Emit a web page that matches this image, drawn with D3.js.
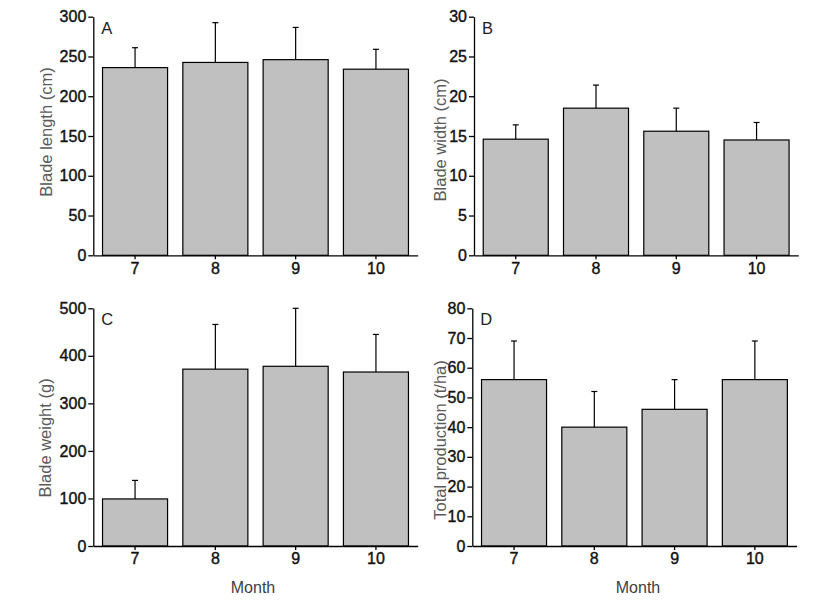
<!DOCTYPE html>
<html>
<head>
<meta charset="utf-8">
<script src="https://cdn.jsdelivr.net/npm/d3@7"></script>
<style>
  html, body { margin: 0; padding: 0; background: #fff; }
  svg { display: block; }
  .tick text { font-family: "Liberation Sans", Arial, sans-serif; font-size: 16px; fill: #111; stroke: #111; stroke-width: 0.4px; }
  .ytitle { font-family: "Liberation Sans", Arial, sans-serif; font-size: 16.5px; fill: #5a5a5a; }
  .xtitle { font-family: "Liberation Sans", Arial, sans-serif; font-size: 16px; fill: #3a3f44; }
  .plabel { font-family: "Liberation Sans", Arial, sans-serif; font-size: 16.5px; fill: #222; }
</style>
</head>
<body>
<svg id="chart" width="838" height="607"></svg>
<script>
// ---- Data ----
const months = ["7", "8", "9", "10"];

const lengthMean = [236, 242.5, 246, 234];
const lengthSD   = [25, 50, 40.5, 25];
const lengthTicks = [0, 50, 100, 150, 200, 250, 300];

const widthMean = [14.6, 18.5, 15.6, 14.5];
const widthSD   = [1.8, 2.9, 2.9, 2.2];
const widthTicks = [0, 5, 10, 15, 20, 25, 30];

const weightMean = [99, 372, 378, 366];
const weightSD   = [39, 94, 122, 79];
const weightTicks = [0, 100, 200, 300, 400, 500];

const prodMean = [56, 40, 46, 56];
const prodSD   = [13, 12, 10, 13];
const prodTicks = [0, 10, 20, 30, 40, 50, 60, 70, 80];

const panelLetters = ["A", "B", "C", "D"];
const yTitles = ["Blade length (cm)", "Blade width (cm)", "Blade weight (g)", "Total production (t/ha)"];
const xTitle = "Month";

// ---- Layout ----
const panels = [
  { letter: panelLetters[0], title: yTitles[0], mean: lengthMean, sd: lengthSD, ticks: lengthTicks,
    x0: 93.3, x1: 417.7, y0: 255.3, y1: 16.7, titleX: 46.5, titleY: 132, showX: false, xTitleX: 0 },
  { letter: panelLetters[1], title: yTitles[1], mean: widthMean, sd: widthSD, ticks: widthTicks,
    x0: 474, x1: 798.3, y0: 255.3, y1: 16.7, titleX: 440.5, titleY: 140, showX: false, xTitleX: 0 },
  { letter: panelLetters[2], title: yTitles[2], mean: weightMean, sd: weightSD, ticks: weightTicks,
    x0: 93.3, x1: 417.7, y0: 546, y1: 308.3, titleX: 45, titleY: 438, showX: true, xTitleX: 253 },
  { letter: panelLetters[3], title: yTitles[3], mean: prodMean, sd: prodSD, ticks: prodTicks,
    x0: 472.3, x1: 796.6, y0: 546, y1: 308.3, titleX: 440.5, titleY: 440, showX: true, xTitleX: 638 }
];

const svg = d3.select("#chart");

panels.forEach(p => {
  const g = svg.append("g");
  const x = d3.scaleBand().domain(months).range([p.x0, p.x1]).paddingInner(0.19).paddingOuter(0.115);
  const yMax = p.ticks[p.ticks.length - 1];
  const y = d3.scaleLinear().domain([0, yMax]).range([p.y0, p.y1]);

  const data = months.map((m, i) => ({ m, v: p.mean[i], sd: p.sd[i] }));

  // bars
  g.selectAll("rect.bar").data(data).join("rect")
    .attr("class", "bar")
    .attr("x", d => x(d.m))
    .attr("y", d => y(d.v))
    .attr("width", x.bandwidth())
    .attr("height", d => y(0) - y(d.v))
    .attr("fill", "#c0c0c0")
    .attr("stroke", "#000")
    .attr("stroke-width", 1.2);

  // error bars (upper)
  g.selectAll("line.err").data(data).join("line")
    .attr("class", "err")
    .attr("x1", d => x(d.m) + x.bandwidth() / 2)
    .attr("x2", d => x(d.m) + x.bandwidth() / 2)
    .attr("y1", d => y(d.v))
    .attr("y2", d => y(d.v + d.sd))
    .attr("stroke", "#000").attr("stroke-width", 1.2);
  g.selectAll("line.cap").data(data).join("line")
    .attr("class", "cap")
    .attr("x1", d => x(d.m) + x.bandwidth() / 2 - 3)
    .attr("x2", d => x(d.m) + x.bandwidth() / 2 + 3)
    .attr("y1", d => y(d.v + d.sd))
    .attr("y2", d => y(d.v + d.sd))
    .attr("stroke", "#000").attr("stroke-width", 1.2);

  // y axis
  const ya = g.append("g").attr("transform", `translate(${p.x0},0)`)
    .call(d3.axisLeft(y).tickValues(p.ticks).tickSize(5).tickPadding(2).tickSizeOuter(0));
  ya.select(".domain").attr("stroke", "#000").attr("stroke-width", 1.3);
  ya.selectAll(".tick line").attr("stroke", "#000").attr("stroke-width", 1.3);

  // x axis
  const xa = g.append("g").attr("transform", `translate(0,${p.y0})`)
    .call(d3.axisBottom(x).tickSize(4).tickPadding(3).tickSizeOuter(0));
  xa.select(".domain").attr("stroke", "#000").attr("stroke-width", 1.3);
  xa.selectAll(".tick line").attr("stroke", "#000").attr("stroke-width", 1.3);

  // panel letter
  g.append("text").attr("class", "plabel")
    .attr("x", p.x0 + 8).attr("y", p.y1 + 17)
    .text(p.letter);

  // y title
  g.append("text").attr("class", "ytitle")
    .attr("text-anchor", "middle")
    .attr("transform", `translate(${p.titleX},${p.titleY}) rotate(-90)`)
    .attr("dy", "0.35em")
    .text(p.title);

  // x title
  if (p.showX) {
    g.append("text").attr("class", "xtitle")
      .attr("text-anchor", "middle")
      .attr("x", p.xTitleX)
      .attr("y", 593)
      .text(xTitle);
  }
});
</script>
</body>
</html>
